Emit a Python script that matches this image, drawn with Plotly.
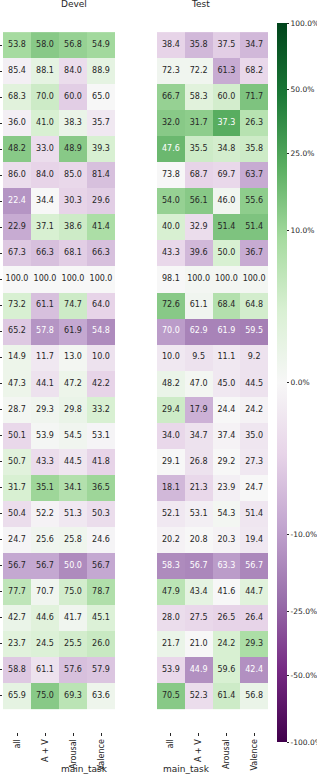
import math
import plotly.graph_objects as go

columns = ["all", "A + V", "Arousal", "Valence"]

devel_values = [
    [53.8, 58.0, 56.8, 54.9],
    [85.4, 88.1, 84.0, 88.9],
    [68.3, 70.0, 60.0, 65.0],
    [36.0, 41.0, 38.3, 35.7],
    [48.2, 33.0, 48.9, 39.3],
    [86.0, 84.0, 85.0, 81.4],
    [22.4, 34.4, 30.3, 29.6],
    [22.9, 37.1, 38.6, 41.4],
    [67.3, 66.3, 68.1, 66.3],
    [100.0, 100.0, 100.0, 100.0],
    [73.2, 61.1, 74.7, 64.0],
    [65.2, 57.8, 61.9, 54.8],
    [14.9, 11.7, 13.0, 10.0],
    [47.3, 44.1, 47.2, 42.2],
    [28.7, 29.3, 29.8, 33.2],
    [50.1, 53.9, 54.5, 53.1],
    [50.7, 43.3, 44.5, 41.8],
    [31.7, 35.1, 34.1, 36.5],
    [50.4, 52.2, 51.3, 50.3],
    [24.7, 25.6, 25.8, 24.6],
    [56.7, 56.7, 50.0, 56.7],
    [77.7, 70.7, 75.0, 78.7],
    [42.7, 44.6, 41.7, 45.1],
    [23.7, 24.5, 25.5, 26.0],
    [58.8, 61.1, 57.6, 57.9],
    [65.9, 75.0, 69.3, 63.6],
]

test_values = [
    [38.4, 35.8, 37.5, 34.7],
    [72.3, 72.2, 61.3, 68.2],
    [66.7, 58.3, 60.0, 71.7],
    [32.0, 31.7, 37.3, 26.3],
    [47.6, 35.5, 34.8, 35.8],
    [73.8, 68.7, 69.7, 63.7],
    [54.0, 56.1, 46.0, 55.6],
    [40.0, 32.9, 51.4, 51.4],
    [43.3, 39.6, 50.0, 36.7],
    [98.1, 100.0, 100.0, 100.0],
    [72.6, 61.1, 68.4, 64.8],
    [70.0, 62.9, 61.9, 59.5],
    [10.0, 9.5, 11.1, 9.2],
    [48.2, 47.0, 45.0, 44.5],
    [29.4, 17.9, 24.4, 24.2],
    [34.0, 34.7, 37.4, 35.0],
    [29.1, 26.8, 29.2, 27.3],
    [18.1, 21.3, 23.9, 24.7],
    [52.1, 53.1, 54.3, 51.4],
    [20.2, 20.8, 20.3, 19.4],
    [58.3, 56.7, 63.3, 56.7],
    [47.9, 43.4, 41.6, 44.7],
    [28.0, 27.5, 26.5, 26.4],
    [21.7, 21.0, 24.2, 29.3],
    [53.9, 44.9, 59.6, 42.4],
    [70.5, 52.3, 61.4, 56.8],
]

# relative change (%) encoded by the colour of each cell (estimated)
devel_change = [
    [9, 13, 11, 9.5],
    [-0.5, 1.5, -2, 1.5],
    [2, 4, -3.5, 0],
    [-0.5, 3, 1, -1],
    [13, -2, 13, 3],
    [-2, -3, -2.5, -5],
    [-12, 0, -3, -3.5],
    [-8, 3, 4, 8],
    [-4, -5, -3.5, -5],
    [0, 0, 0, 0],
    [3, -5, 4, -3],
    [-4, -12, -8.5, -14],
    [0.8, -1, 0.3, -1.5],
    [0.8, -1.5, 0.8, -3],
    [0.3, 0.5, 1, 3],
    [-2.5, 0.2, 0.5, -0.2],
    [2, -2, -1.2, -3],
    [3, 10, 7, 10],
    [-2, -0.3, -1, -2],
    [-0.2, 0.5, 0.6, -0.2],
    [-8.5, -8.5, -14, -8.5],
    [5.5, 0.5, 3.5, 7.5],
    [1, 2, 0.5, 2.5],
    [2, 2.5, 3.5, 4.5],
    [-4, -1.5, -5, -4.5],
    [1.5, 13, 6, 0.7],
]

test_change = [
    [-3, -6, -3.5, -6],
    [0.5, 0.5, -8, -2.5],
    [11, 2, 3.5, 14.5],
    [13, 12, 22, 6.5],
    [18, 4, 3.5, 4],
    [0, -3, -2.5, -8],
    [11, 13, 0.5, 12],
    [3, -2, 14.5, 14.5],
    [-2.5, -6, 3, -8],
    [0, 0.3, 0.3, 0.3],
    [13, 0.5, 7, 3.5],
    [-10.5, -16, -16, -17],
    [-1, -1.5, -1, -1.5],
    [1, 0.3, -1, -1.5],
    [4, -7, 0, -0.3],
    [-2.5, -1.5, -0.3, -1.2],
    [0, -1.5, 0, -1],
    [-6, -2.5, -0.5, 0],
    [-1, -0.5, 0.3, -1.2],
    [-0.3, 0, -0.3, -1],
    [-14, -15, -10.5, -15],
    [6, 1.5, 0, 2],
    [-2, -2.5, -3, -3],
    [1, 0, 3, 8],
    [-2.5, -13, 3, -13],
    [13, -2, 4, 1],
]

colorbar_ticks = [-100, -50, -25, -10, 0, 10, 25, 50, 100]

PRGN = [(64, 0, 75), (118, 42, 131), (153, 112, 171), (194, 165, 207), (231, 212, 232),
        (247, 247, 247), (217, 240, 211), (166, 219, 160), (90, 174, 97), (27, 120, 55), (0, 68, 27)]
colorscale = [[i / 10, "rgb(%d,%d,%d)" % c] for i, c in enumerate(PRGN)]

C = 2.8
def tr(p):
    s = 1 if p >= 0 else -1
    return s * math.log1p(abs(p) / C) / math.log1p(100 / C)

def cell_rgb(t):
    n = max(0.0, min(1.0, (t + 1) / 2)) * 10
    i = min(int(n), 9)
    f = n - i
    a, b = PRGN[i], PRGN[i + 1]
    return [a[k] + (b[k] - a[k]) * f for k in range(3)]

def lum(rgb):
    out = []
    for v in rgb:
        v = v / 255
        out.append(v / 12.92 if v <= 0.03928 else ((v + 0.055) / 1.055) ** 2.4)
    return 0.2126 * out[0] + 0.7152 * out[1] + 0.0722 * out[2]

W, H = 317, 775
FONT = "DejaVu Sans"
DARK = "rgb(38,38,38)"

fig = go.Figure()
rows = list(range(len(devel_values)))

panels = [("x", "y", devel_values, devel_change, [3 / W, 115 / W]),
          ("x2", "y2", test_values, test_change, [157 / W, 268 / W])]

for idx, (xa, ya, vals, chg, dom) in enumerate(panels):
    z = [[tr(p) for p in r] for r in chg]
    fig.add_trace(go.Heatmap(
        x=columns, y=rows, z=z, xaxis=xa, yaxis=ya,
        colorscale=colorscale, zmin=-1, zmax=1,
        showscale=(idx == 1),
        colorbar=dict(
            x=277 / W, xanchor="left", y=1 - 382.5 / H, yanchor="middle",
            len=719 / H, lenmode="fraction", thickness=10, outlinewidth=0,
            xpad=0, ypad=0,
            tickvals=[tr(v) for v in colorbar_ticks],
            ticktext=["%.1f%%" % v for v in colorbar_ticks],
            ticks="outside", ticklen=2.5, tickcolor=DARK,
            tickfont=dict(family=FONT, size=7.5, color=DARK),
        ),
        hoverinfo="skip",
    ))
    xs, ys, txt, cols = [], [], [], []
    for ri, r in enumerate(vals):
        for ci, v in enumerate(r):
            xs.append(columns[ci])
            ys.append(ri)
            txt.append("%.1f" % v)
            cols.append(DARK if lum(cell_rgb(z[ri][ci])) > 0.408 else "white")
    fig.add_trace(go.Scatter(
        x=xs, y=ys, text=txt, mode="text", xaxis=xa, yaxis=ya,
        textfont=dict(family=FONT, size=8, color=cols),
        hoverinfo="skip", showlegend=False,
    ))

ydom = [1 - 732 / H, 1 - 9 / H]
common_x = dict(type="category", tickangle=-90, ticks="outside", ticklen=3, tickcolor=DARK,
                tickfont=dict(family=FONT, size=8, color=DARK), showgrid=False, zeroline=False,
                showline=False, automargin=False)
title_font = dict(family=FONT, size=9, color=DARK)
fig.update_layout(
    width=W, height=H, margin=dict(l=0, r=0, t=0, b=0, autoexpand=False),
    paper_bgcolor="white", plot_bgcolor="white", showlegend=False,
    xaxis=dict(domain=panels[0][4], anchor="y", **common_x),
    xaxis2=dict(domain=panels[1][4], anchor="y2", **common_x),
    yaxis=dict(domain=ydom, anchor="x", autorange="reversed", showticklabels=False,
               ticks="outside", ticklen=3, tickcolor=DARK, showgrid=False, zeroline=False,
               tickvals=rows, automargin=False),
    yaxis2=dict(domain=ydom, anchor="x2", autorange="reversed", showticklabels=False,
                ticks="", showgrid=False, zeroline=False, automargin=False),
    annotations=[
        dict(text="Devel", x=sum(panels[0][4]) / 2, y=1 - 4 / H, xref="paper", yref="paper",
             showarrow=False, yanchor="middle", font=title_font),
        dict(text="Test", x=sum(panels[1][4]) / 2, y=1 - 4 / H, xref="paper", yref="paper",
             showarrow=False, yanchor="middle", font=title_font),
        dict(text="main_task", x=sum(panels[0][4]) / 2, y=1 - 769 / H, xref="paper", yref="paper",
             showarrow=False, yanchor="middle", font=title_font),
        dict(text="main_task", x=sum(panels[1][4]) / 2, y=1 - 769 / H, xref="paper", yref="paper",
             showarrow=False, yanchor="middle", font=title_font),
    ],
)

fig.write_html(
    "out.html",
    config={"displayModeBar": False},
    post_script="document.body.style.margin='0';document.body.style.overflow='hidden';",
)
